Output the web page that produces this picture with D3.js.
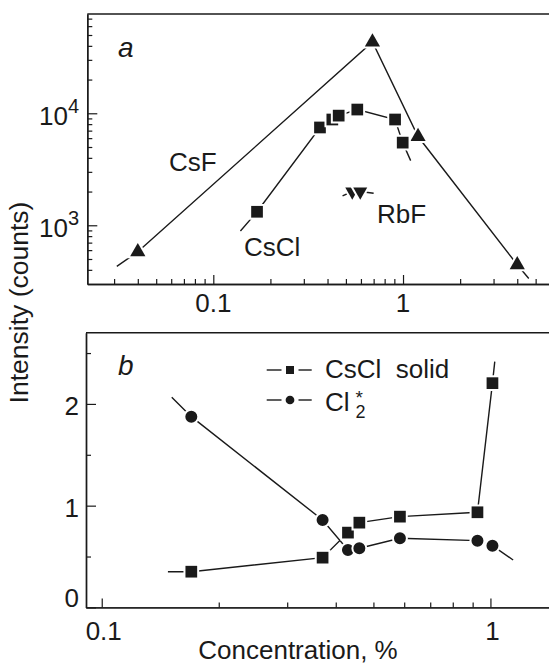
<!DOCTYPE html>
<html><head><meta charset="utf-8">
<script src="https://cdn.jsdelivr.net/npm/d3@7/dist/d3.min.js"></script>
<style>
html,body{margin:0;padding:0;background:#fff;}
svg{display:block;}
text{font-family:"Liberation Sans",Arial,Helvetica,sans-serif;fill:#1a1a1a;white-space:pre;}
</style></head><body>
<svg id="c" width="549" height="664"></svg>
<script>
// ---------- Panel a data (log-log) ----------
const csfConc   = [0.04, 0.69, 1.2, 4.0];
const csfCounts = [580, 43300, 6200, 444];
const csfTailConc = [0.031, 4.6];
const csfTailCounts = [430, 335];

const csclConc   = [0.17, 0.365, 0.424, 0.458, 0.574, 0.908, 0.996];
const csclCounts = [1320, 7470, 8800, 9530, 10800, 8800, 5470];
const csclTailConc = [0.139, 1.097];
const csclTailCounts = [890, 3780];

const rbfConc   = [0.54, 0.595];
const rbfCounts = [2000, 2000];
const rbfTailConc = [0.48, 0.70];
const rbfTailCounts = [1830, 1930];

const topXMajor = [0.1, 1];
const topXLabels = ["0.1", "1"];
const topXMinor = [0.03,0.04,0.05,0.06,0.07,0.08,0.09,0.2,0.3,0.4,0.5,0.6,0.7,0.8,0.9,2,3,4,5];
const topYMajor = [1e3, 1e4];
const topYExp = ["3", "4"];
const topYMinor = [400,500,600,700,800,900,2000,3000,4000,5000,6000,7000,8000,9000,20000,30000,40000,50000,60000,70000];

// ---------- Panel b data (log x, linear y) ----------
const conc2 = [0.17, 0.37, 0.43, 0.46, 0.585, 0.926, 1.012];
const solidVals = [0.351, 0.489, 0.735, 0.833, 0.892, 0.935, 2.204];
const cl2Vals   = [1.875, 0.859, 0.564, 0.581, 0.679, 0.656, 0.607];
const solidTailConc = [0.148, 1.026];
const solidTailVals = [0.351, 2.416];
const cl2TailConc = [0.1514, 1.144];
const cl2TailVals = [2.066, 0.466];

const botXMajor = [0.1, 1];
const botXLabels = ["0.1", "1"];
const botXMinor = [0.2,0.3,0.4,0.5,0.6,0.7,0.8,0.9];
const botYMajor = [0, 1, 2];
const botYMinor = [0.5, 1.5, 2.5];

const legendLabels = ["CsCl  solid", "Cl"];

// ---------- Scales ----------
const topX = d3.scaleLog().domain([0.02167, 6.72]).range([87.3, 560]);
const topY = d3.scaleLog().domain([299, 77000]).range([284, 14]);
const botX = d3.scaleLog().domain([0.0911, 1.51]).range([86, 560]);
const botY = d3.scaleLinear().domain([0, 2.70]).range([607.4, 332.7]);

const ink = "#1a1a1a";
const svg = d3.select("#c");
const FS = 26;

function axisStyle(g){
  g.selectAll("path.domain").attr("stroke", ink).attr("stroke-width", 1.4);
  g.selectAll(".tick line").attr("stroke", ink).attr("stroke-width", 1.2);
  g.selectAll(".tick text").remove();
}

function drawFrame(xs, ys, xMaj, xMin, yMaj, yMin){
  const x0 = xs.range()[0], y0 = ys.range()[0], y1 = ys.range()[1];
  svg.append("g").attr("transform", `translate(0,${y0})`)
    .call(d3.axisBottom(xs).tickValues(xMin).tickSize(-5).tickSizeOuter(0).tickFormat(""))
    .call(axisStyle);
  svg.append("g").attr("transform", `translate(0,${y0})`)
    .call(d3.axisBottom(xs).tickValues(xMaj).tickSize(-9).tickSizeOuter(0).tickFormat(""))
    .call(axisStyle);
  svg.append("g").attr("transform", `translate(${x0},0)`)
    .call(d3.axisLeft(ys).tickValues(yMin).tickSize(-5).tickSizeOuter(0).tickFormat(""))
    .call(axisStyle);
  svg.append("g").attr("transform", `translate(${x0},0)`)
    .call(d3.axisLeft(ys).tickValues(yMaj).tickSize(-10).tickSizeOuter(0).tickFormat(""))
    .call(axisStyle);
  svg.append("line").attr("x1", x0).attr("x2", xs.range()[1]).attr("y1", y1).attr("y2", y1)
    .attr("stroke", ink).attr("stroke-width", 1.4);
}

drawFrame(topX, topY, topXMajor, topXMinor, topYMajor, topYMinor);
drawFrame(botX, botY, botXMajor, botXMinor, botYMajor, botYMinor);

// ---------- Tick labels ----------
topXMajor.forEach((v,i)=>{
  svg.append("text").attr("x", topX(v)).attr("y", 311.5).attr("text-anchor","middle")
    .attr("font-size", FS).text(topXLabels[i]);
});
topYMajor.forEach((v,i)=>{
  const t = svg.append("text").attr("x", 79).attr("y", topY(v)+11.8).attr("text-anchor","end")
    .attr("font-size", FS);
  t.append("tspan").text("10");
  t.append("tspan").attr("dy", -12).attr("font-size", 20).text(topYExp[i]);
});
botXMajor.forEach((v,i)=>{
  svg.append("text").attr("x", botX(v)+2).attr("y", 640).attr("text-anchor","middle")
    .attr("font-size", FS).text(botXLabels[i]);
});
botYMajor.forEach((v)=>{
  svg.append("text").attr("x", 79).attr("y", botY(v) + (v===0 ? -0.5 : 11)).attr("text-anchor","end")
    .attr("font-size", FS).text(String(v));
});

// axis titles
svg.append("text").attr("transform","translate(28,302.5) rotate(-90)")
  .attr("text-anchor","middle").attr("font-size", 26.5).text("Intensity (counts)");
svg.append("text").attr("x", 298).attr("y", 658.5).attr("text-anchor","middle")
  .attr("font-size", 26).text("Concentration, %");

// panel letters
svg.append("text").attr("x", 118).attr("y", 56.5).attr("font-family","Liberation Serif, Times New Roman, serif")
  .attr("font-style","italic").attr("font-size", 28).text("a");
svg.append("text").attr("x", 118).attr("y", 375).attr("font-family","Liberation Serif, Times New Roman, serif")
  .attr("font-style","italic").attr("font-size", 28).text("b");

// ---------- Series drawing ----------
function series(xs, ys, xv, yv, tx, ty, sym, size, rot){
  const pts = [[tx[0], ty[0]]].concat(xv.map((x,i)=>[x, yv[i]])).concat([[tx[1], ty[1]]]);
  svg.append("path").datum(pts)
    .attr("d", d3.line().x(d=>xs(d[0])).y(d=>ys(d[1])))
    .attr("fill","none").attr("stroke", ink).attr("stroke-width", 1.4);
  svg.append("g").selectAll("path").data(xv.map((x,i)=>[x, yv[i]])).join("path")
    .attr("d", d3.symbol().type(sym).size(size))
    .attr("transform", d=>`translate(${xs(d[0])},${ys(d[1])}) rotate(${rot||0})`)
    .attr("fill", ink).attr("stroke","#fff").attr("stroke-width", 4)
    .style("paint-order","stroke");
}

series(topX, topY, csfConc, csfCounts, csfTailConc, csfTailCounts, d3.symbolTriangle, 100);
series(topX, topY, csclConc, csclCounts, csclTailConc, csclTailCounts, d3.symbolSquare, 137);
series(topX, topY, rbfConc, rbfCounts, rbfTailConc, rbfTailCounts, d3.symbolTriangle, 85, 180);

series(botX, botY, conc2, cl2Vals, cl2TailConc, cl2TailVals, d3.symbolCircle, 113);
series(botX, botY, conc2, solidVals, solidTailConc, solidTailVals, d3.symbolSquare, 137);

// series labels (panel a)
svg.append("text").attr("x", 169).attr("y", 170.5).attr("font-size", FS).text("CsF");
svg.append("text").attr("x", 244).attr("y", 256).attr("font-size", FS).text("CsCl");
svg.append("text").attr("x", 377).attr("y", 222.5).attr("font-size", FS).text("RbF");

// ---------- Legend (panel b) ----------
const legY = [370, 400];
const legSym = [d3.symbolSquare, d3.symbolCircle];
const legSize = [64, 60];
legY.forEach((y,i)=>{
  svg.append("line").attr("x1", 266.7).attr("x2", 281.5).attr("y1", y).attr("y2", y)
    .attr("stroke", ink).attr("stroke-width", 1.4);
  svg.append("line").attr("x1", 298.5).attr("x2", 311.7).attr("y1", y).attr("y2", y)
    .attr("stroke", ink).attr("stroke-width", 1.4);
  svg.append("path").attr("d", d3.symbol().type(legSym[i]).size(legSize[i]))
    .attr("transform", `translate(290,${y})`).attr("fill", ink);
});
svg.append("text").attr("x", 325).attr("y", 377.5).attr("font-size", FS).text(legendLabels[0]);
const cl = svg.append("text").attr("x", 325).attr("y", 411).attr("font-size", FS);
cl.append("tspan").text(legendLabels[1]);
cl.append("tspan").attr("x", 355.5).attr("dy", -7).attr("font-size", 19).text("*");
cl.append("tspan").attr("x", 355.5).attr("dy", 14.3).attr("font-size", 18).text("2");
</script>
</body></html>
